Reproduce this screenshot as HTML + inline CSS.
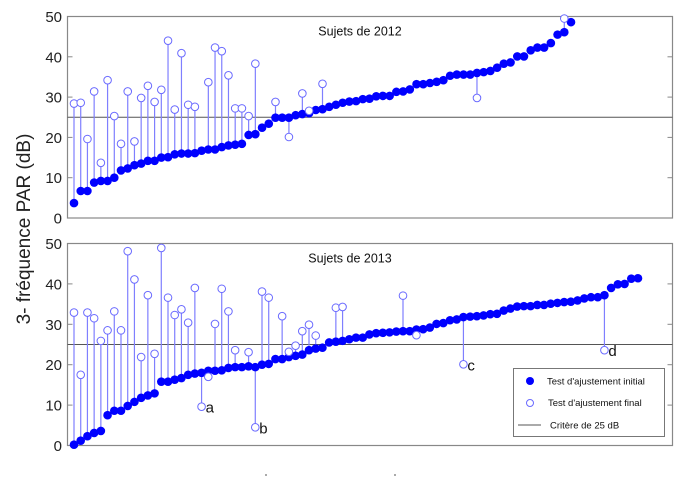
<!DOCTYPE html>
<html><head><meta charset="utf-8">
<style>
html,body{margin:0;padding:0;background:#fff;}
svg{display:block;font-family:"Liberation Sans","DejaVu Sans",sans-serif;}
</style></head>
<body>
<svg id="chart" width="700" height="489" viewBox="0 0 700 489" xmlns="http://www.w3.org/2000/svg">
  <rect x="0" y="0" width="700" height="489" fill="#fff"/>
  <text transform="translate(30,229) rotate(-90)" text-anchor="middle" font-size="19" fill="#222">3- fréquence PAR (dB)</text>
  <line x1="265" y1="475" x2="267" y2="475" stroke="#555" stroke-width="1"/>
  <line x1="394" y1="475" x2="396" y2="475" stroke="#555" stroke-width="1"/>
  <g id="p1"></g>
  <g id="p2"></g>
  <g>
    <rect x="513.5" y="368.5" width="151" height="68" fill="#fff" stroke="#777" stroke-width="1"/>
    <circle cx="530" cy="381" r="4" fill="#0000ff"/>
    <text x="547" y="384.5" font-size="9.5" fill="#111">Test d'ajustement initial</text>
    <circle cx="530" cy="403" r="3.5" fill="#fff" stroke="#6a6aff" stroke-width="1"/>
    <text x="548" y="406" font-size="9.5" fill="#111">Test d'ajustement final</text>
    <line x1="518" y1="425" x2="541" y2="425" stroke="#555" stroke-width="1"/>
    <text x="550" y="428.5" font-size="9.5" fill="#111">Critère de 25 dB</text>
  </g>
</svg>
<script>
const yTicks = [0, 10, 20, 30, 40, 50];
const criterion = 25;
const initial2012 = [3.7,6.7,6.7,8.8,9.2,9.2,10,11.8,12.3,13.1,13.5,14.2,14.2,15,15.1,15.8,16,16,16.1,16.7,17,17,17.6,18,18.2,18.4,20.6,20.8,22.4,23.4,24.9,24.9,24.9,25.5,25.8,26,26.8,27,27.6,28.1,28.6,28.9,29,29.5,29.6,30.2,30.3,30.3,31.3,31.4,31.9,33.2,33.2,33.5,33.8,34.2,35.3,35.6,35.6,35.6,36,36.2,36.5,37.3,38.3,38.6,40.1,40.1,41.6,42.3,42.3,43.4,45.5,46.1,48.6];
const final2012 = [28.4,28.6,19.6,31.4,13.7,34.2,25.3,18.4,31.4,19,29.8,32.8,28.8,31.8,44,26.9,40.9,28.1,27.6,null,33.7,42.3,41.4,35.4,27.2,27.2,25.3,38.3,null,null,28.8,null,20.1,null,30.9,26.6,null,33.3,null,null,null,null,null,null,null,null,null,null,null,null,null,null,null,null,null,null,null,null,null,null,29.8,null,null,null,null,null,null,null,null,null,null,null,null,49.5,null];
const initial2013 = [0.2,1.2,2.3,3.1,3.6,7.5,8.6,8.6,9.8,10.8,11.8,12.4,12.9,15.8,15.8,16.3,16.7,17.5,17.8,18,18.5,18.5,18.6,19.2,19.4,19.4,19.6,19.4,20,20.2,21.4,21.4,21.9,22.2,22.5,23.6,24,24.2,25.5,25.7,25.9,26.3,26.7,26.7,27.5,27.8,27.9,28,28.2,28.3,28.3,28.7,28.8,29.2,30.1,30.3,31,31.2,31.8,31.9,32,32.2,32.5,32.6,33.4,33.9,34.4,34.5,34.5,34.8,34.8,35.1,35.3,35.5,35.6,35.9,36.4,36.7,36.7,37.2,39,39.9,40,41.3,41.4];
const final2013 = [32.9,17.5,32.9,31.5,25.9,28.5,33.2,28.5,48.1,41.1,21.9,37.2,22.7,48.9,36.6,32.3,33.7,30.4,39,9.6,17,30.1,38.8,33.2,23.6,null,23.1,4.5,38.1,36.6,null,32,23.2,24.7,28.3,29.9,27.2,null,null,34.1,34.3,null,null,null,null,null,null,null,null,37.1,null,27.3,null,null,null,null,null,null,20.1,null,null,null,null,null,null,null,null,null,null,null,null,null,null,null,null,null,null,null,null,23.6,null,null,null,null,null];
const notes2013 = {19:'a', 27:'b', 58:'c', 79:'d'};

const NS = 'http://www.w3.org/2000/svg';
function mk(parent, tag, attrs){const e=document.createElementNS(NS,tag);for(const k in attrs)e.setAttribute(k,attrs[k]);parent.appendChild(e);return e;}

function drawPanel(g, title, titleX, top, bottom, initial, fin, firstX, lastX, notes){
  const left = 67.5, right = 672.5;
  const yScale = v => bottom + (top - bottom) * v / 50;
  const xScale = i => firstX + (lastX - firstX) * i / (initial.length - 1);
  const frame = mk(g,'rect',{x:left,y:top,width:right-left,height:bottom-top,fill:'none',stroke:'#888','stroke-width':1.2});
  
  
  yTicks.forEach(t=>{
    const y = yScale(t);
    const tl = mk(g,'line',{x1:left,y1:y,x2:left+5,y2:y,stroke:'#888'});
    
    
    const tr = mk(g,'line',{x1:right-5,y1:y,x2:right,y2:y,stroke:'#888'});
    
    
    const lab = mk(g,'text',{x:62,y:y+5.5,'text-anchor':'end','font-size':15,fill:'#222'});
    lab.textContent = t;
    
    
  });
  const cl = mk(g,'line',{x1:left,y1:yScale(criterion),x2:right,y2:yScale(criterion),stroke:'#555','stroke-width':1});
  
  
  const tt = mk(g,'text',{x:titleX,y:top+19,'text-anchor':'middle','font-size':12.5,fill:'#111'});
  tt.textContent = title;
  
  
  initial.forEach((v,i)=>{
    const f = fin[i];
    if(f!==null && f!==undefined){
      const st = mk(g,'line',{x1:xScale(i),y1:yScale(v),x2:xScale(i),y2:yScale(f),stroke:'#7f7fff','stroke-width':1.2});
      
      
    }
  });
  initial.forEach((v,i)=>{
    const c = mk(g,'circle',{cx:xScale(i),cy:yScale(v),r:4.3,fill:'#0000ff'});
    
    
  });
  initial.forEach((v,i)=>{
    const f = fin[i];
    if(f!==null && f!==undefined){
      const c = mk(g,'circle',{cx:xScale(i),cy:yScale(f),r:3.8,fill:'#fff',stroke:'#6a6aff','stroke-width':1});
      
      
      if(notes && notes[i]){
        const n = mk(g,'text',{x:xScale(i)+4,y:yScale(f)+6,'font-size':15,fill:'#111'});
        n.textContent = notes[i];
        
        
      }
    }
  });
}
drawPanel(document.getElementById('p1'),'Sujets de 2012',360,16.5,218,initial2012,final2012,74,571,null);
drawPanel(document.getElementById('p2'),'Sujets de 2013',350,243.5,445.5,initial2013,final2013,74,638,notes2013);
</script>
</body></html>
